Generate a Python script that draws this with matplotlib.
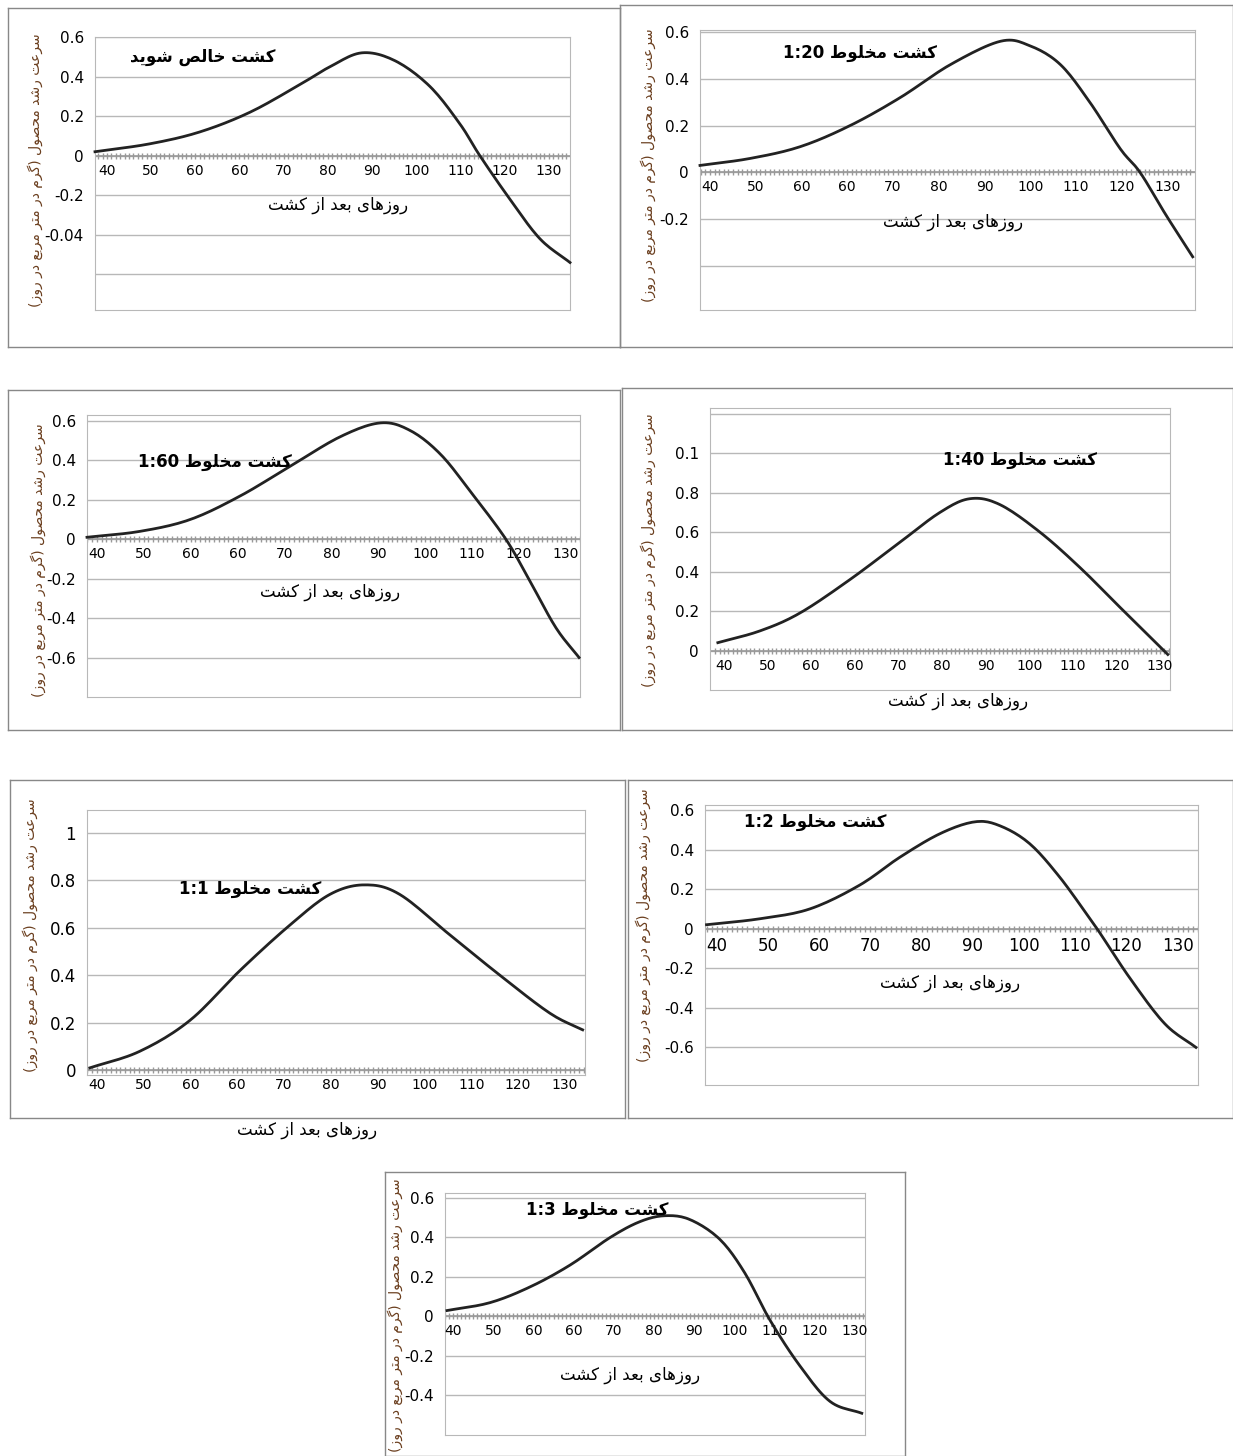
import matplotlib
matplotlib.use("Agg")
import matplotlib.pyplot as plt
import numpy as np

W, H = 1233, 1456

# Persian text (logical order)
Y_LABEL = "سرعت رشد محصول (گرم در متر مربع در روز)"
X_LABEL = "روزهای بعد از کشت"
TITLES = ["کشت خالص شوید", "کشت مخلوط 1:20", "کشت مخلوط 1:60", "کشت مخلوط 1:40",
          "کشت مخلوط 1:1", "کشت مخلوط 1:2", "کشت مخلوط 1:3"]

XT_SKEW = ["40", "50", "60", "60", "70", "80", "90", "100", "110", "120", "130"]
XT_PLAIN = ["40", "50", "60", "70", "80", "90", "100", "110", "120", "130"]

# curves: days (label scale) and growth rate
p1_x = [37.3, 49.7, 61, 72.4, 83.7, 90.5, 97.7, 105.2, 113.1, 119.9, 124.4, 131.2, 138, 144.8]
p1_y = [0.02, 0.06, 0.12, 0.22, 0.36, 0.45, 0.52, 0.48, 0.35, 0.16, 0.0, -0.22, -0.42, -0.54]
p2_x = [37.8, 48.8, 59.7, 70.6, 81.6, 92.5, 103.5, 110, 116.6, 123, 129.7, 134, 139.6, 145.5]
p2_y = [0.03, 0.06, 0.11, 0.2, 0.32, 0.46, 0.56, 0.54, 0.46, 0.3, 0.1, 0.0, -0.18, -0.36]
p3_x = [37.9, 49.2, 59.9, 70.6, 81.2, 91.9, 100.5, 106.9, 113.3, 119.7, 127.2, 132.5, 137.9, 142.8]
p3_y = [0.01, 0.04, 0.1, 0.22, 0.37, 0.52, 0.59, 0.55, 0.43, 0.24, 0.0, -0.22, -0.45, -0.6]
p4_x = [38.6, 48.3, 57.4, 68.9, 80.4, 89.5, 96.4, 103.3, 112.5, 121.7, 130.8, 141.8]
p4_y = [0.04, 0.1, 0.19, 0.36, 0.55, 0.7, 0.77, 0.74, 0.6, 0.42, 0.22, -0.02]
p5_x = [38.5, 49.2, 59.9, 70.6, 81.2, 89.8, 97.3, 104.7, 115.4, 126.1, 136.8, 143.8]
p5_y = [0.01, 0.08, 0.21, 0.42, 0.61, 0.74, 0.78, 0.74, 0.57, 0.4, 0.24, 0.17]
p6_x = [38, 48.4, 58.2, 67.9, 75.7, 83.6, 90.4, 95.3, 101.1, 107, 112.9, 114.8, 120.7, 127.5, 133.6]
p6_y = [0.02, 0.05, 0.1, 0.22, 0.36, 0.48, 0.54, 0.52, 0.43, 0.26, 0.05, -0.02, -0.25, -0.48, -0.6]
p7_x = [38.5, 49.2, 59.2, 69.1, 79.1, 86.5, 92.7, 99, 106.4, 112.6, 118.9, 126.3, 133.8, 141.7]
p7_y = [0.03, 0.07, 0.15, 0.26, 0.4, 0.48, 0.51, 0.49, 0.39, 0.22, -0.02, -0.25, -0.43, -0.49]

FORMS = {
    'ا': ('\uFE8D', '\uFE8E', None, None), 'ب': ('\uFE8F', '\uFE90', '\uFE91', '\uFE92'),
    'ت': ('\uFE95', '\uFE96', '\uFE97', '\uFE98'), 'ح': ('\uFEA1', '\uFEA2', '\uFEA3', '\uFEA4'),
    'خ': ('\uFEA5', '\uFEA6', '\uFEA7', '\uFEA8'), 'د': ('\uFEA9', '\uFEAA', None, None),
    'ر': ('\uFEAD', '\uFEAE', None, None), 'ز': ('\uFEAF', '\uFEB0', None, None),
    'س': ('\uFEB1', '\uFEB2', '\uFEB3', '\uFEB4'), 'ش': ('\uFEB5', '\uFEB6', '\uFEB7', '\uFEB8'),
    'ص': ('\uFEB9', '\uFEBA', '\uFEBB', '\uFEBC'), 'ط': ('\uFEC1', '\uFEC2', '\uFEC3', '\uFEC4'),
    'ع': ('\uFEC9', '\uFECA', '\uFECB', '\uFECC'), 'ل': ('\uFEDD', '\uFEDE', '\uFEDF', '\uFEE0'),
    'م': ('\uFEE1', '\uFEE2', '\uFEE3', '\uFEE4'), 'ن': ('\uFEE5', '\uFEE6', '\uFEE7', '\uFEE8'),
    'ه': ('\uFEE9', '\uFEEA', '\uFEEB', '\uFEEC'), 'و': ('\uFEED', '\uFEEE', None, None),
    'ک': ('\uFB8E', '\uFB8F', '\uFB90', '\uFB91'), 'گ': ('\uFB92', '\uFB93', '\uFB94', '\uFB95'),
    'ی': ('\uFBFC', '\uFBFD', '\uFBFE', '\uFBFF'),
}
MIRROR = {'(': ')', ')': '('}


def fa(s):
    """crude arabic shaping + visual reordering"""
    out = []
    for i, c in enumerate(s):
        if c not in FORMS:
            out.append(c)
            continue
        prev = s[i - 1] if i > 0 else ''
        nxt = s[i + 1] if i + 1 < len(s) else ''
        jp = prev in FORMS and FORMS[prev][2] is not None
        jn = nxt in FORMS and FORMS[c][2] is not None
        iso, fin, ini, med = FORMS[c]
        out.append(med if jp and jn else fin if jp else ini if jn else iso)
    runs = []
    for c in out:
        ltr = c.isascii() and (c.isalnum() or c in ':.')
        if runs and runs[-1][0] == ltr:
            runs[-1][1].append(c)
        else:
            runs.append([ltr, [c]])
    res = ""
    for ltr, chars in reversed(runs):
        if ltr:
            res += "".join(chars)
        else:
            res += "".join(MIRROR.get(c, c) for c in reversed(chars))
    return res


def smooth(xs, ys, n=12):
    # catmull-rom through the read points, only for drawing
    x = np.array(xs, float)
    y = np.array(ys, float)
    px = np.concatenate([[2 * x[0] - x[1]], x, [2 * x[-1] - x[-2]]])
    py = np.concatenate([[2 * y[0] - y[1]], y, [2 * y[-1] - y[-2]]])
    t = np.linspace(0, 1, n, endpoint=False)
    ox, oy = [], []
    for i in range(1, len(px) - 2):
        for arr, o in ((px, ox), (py, oy)):
            p0, p1, p2, p3 = arr[i - 1], arr[i], arr[i + 1], arr[i + 2]
            o.extend(0.5 * (2 * p1 + (-p0 + p2) * t + (2 * p0 - 5 * p1 + 4 * p2 - p3) * t ** 2
                            + (-p0 + 3 * p1 - 3 * p2 + p3) * t ** 3))
    ox.append(x[-1])
    oy.append(y[-1])
    return ox, oy


def ftext(x, y, s, **kw):
    fig.text(x / W, 1 - y / H, s, **kw)


fig = plt.figure(figsize=(W / 100, H / 100), dpi=100)
plt.rcParams['font.family'] = ['DejaVu Sans']

GRID = "#b8b8b8"
YCOL = "#6b3f1f"

panels = [
    dict(frame=(8, 8, 620, 347), area=(95, 37, 570, 310), ylim=(-0.78, 0.6), xlim=(37.3, 144.8),
         grid=[0.6, 0.4, 0.2, 0, -0.2, -0.4, -0.6],
         yt=([0.6, 0.4, 0.2, 0, -0.2, -0.4], ["0.6", "0.4", "0.2", "0", "-0.2", "-0.04"]),
         xt=XT_SKEW, title=(203, 57), xl=(338, 205), yl=(35, 170), x=p1_x, y=p1_y),
    dict(frame=(620, 5, 1233, 347), area=(700, 30, 1195, 310), ylim=(-0.587, 0.608), xlim=(37.8, 146),
         grid=[0.6, 0.4, 0.2, 0, -0.2, -0.4],
         yt=([0.6, 0.4, 0.2, 0, -0.2], ["0.6", "0.4", "0.2", "0", "-0.2"]),
         xt=XT_SKEW, title=(860, 53), xl=(953, 222), yl=(648, 165), x=p2_x, y=p2_y),
    dict(frame=(8, 390, 620, 730), area=(87, 415, 580, 697), ylim=(-0.8, 0.63), xlim=(37.9, 143),
         grid=[0.6, 0.4, 0.2, 0, -0.2, -0.4, -0.6],
         yt=([0.6, 0.4, 0.2, 0, -0.2, -0.4, -0.6], ["0.6", "0.4", "0.2", "0", "-0.2", "-0.4", "-0.6"]),
         xt=XT_SKEW, title=(215, 462), xl=(330, 592), yl=(38, 560), x=p3_x, y=p3_y),
    dict(frame=(622, 388, 1233, 730), area=(710, 408, 1170, 690), ylim=(-0.2, 1.23), xlim=(36.8, 142.3),
         grid=[1.2, 1.0, 0.8, 0.6, 0.4, 0.2, 0],
         yt=([1.0, 0.8, 0.6, 0.4, 0.2, 0], ["0.1", "0.8", "0.6", "0.4", "0.2", "0"]),
         xt=XT_SKEW, title=(1020, 460), xl=(958, 701), yl=(648, 550), x=p4_x, y=p4_y),
    dict(frame=(10, 780, 625, 1118), area=(87, 810, 585, 1075), ylim=(-0.02, 1.095), xlim=(37.9, 144.3),
         grid=[1.0, 0.8, 0.6, 0.4, 0.2, 0],
         yt=([1.0, 0.8, 0.6, 0.4, 0.2, 0], ["1", "0.8", "0.6", "0.4", "0.2", "0"]),
         xt=XT_SKEW, title=(250, 889), xl=(307, 1130), yl=(30, 935), x=p5_x, y=p5_y, yfs=12),
    dict(frame=(628, 780, 1233, 1118), area=(705, 805, 1198, 1085), ylim=(-0.79, 0.625), xlim=(37.7, 134),
         grid=[0.6, 0.4, 0.2, 0, -0.2, -0.4, -0.6],
         yt=([0.6, 0.4, 0.2, 0, -0.2, -0.4, -0.6], ["0.6", "0.4", "0.2", "0", "-0.2", "-0.4", "-0.6"]),
         xt=XT_PLAIN, title=(815, 822), xl=(950, 983), yl=(643, 925), x=p6_x, y=p6_y),
    dict(frame=(385, 1172, 905, 1456), area=(445, 1193, 865, 1435), ylim=(-0.6, 0.625), xlim=(38, 142.5),
         grid=[0.6, 0.4, 0.2, 0, -0.2, -0.4],
         yt=([0.6, 0.4, 0.2, 0, -0.2, -0.4], ["0.6", "0.4", "0.2", "0", "-0.2", "-0.4"]),
         xt=XT_SKEW, title=(597, 1210), xl=(630, 1375), yl=(395, 1315), x=p7_x, y=p7_y),
]

for i, p in enumerate(panels):
    fx0, fy0, fx1, fy1 = p["frame"]
    fr = fig.add_axes([fx0 / W, 1 - fy1 / H, (fx1 - fx0) / W, (fy1 - fy0) / H])
    fr.set_xticks([])
    fr.set_yticks([])
    fr.patch.set_alpha(0)
    for s in fr.spines.values():
        s.set_color("#888888")
        s.set_linewidth(1.0)

    x0, y0, x1, y1 = p["area"]
    ax = fig.add_axes([x0 / W, 1 - y1 / H, (x1 - x0) / W, (y1 - y0) / H])
    ax.set_xlim(*p["xlim"])
    ax.set_ylim(*p["ylim"])
    for g in p["grid"]:
        ax.axhline(g, color=GRID, lw=1.0, zorder=1)
    for s in ax.spines.values():
        s.set_color(GRID)
    ax.set_xticks([])
    ax.set_yticks(p["yt"][0])
    ax.set_yticklabels(p["yt"][1], fontsize=p.get("yfs", 11))
    ax.tick_params(axis="y", length=0, pad=8)

    # zero axis with dense minor ticks
    days = [d for d in range(38, 146) if p["xlim"][0] <= d <= p["xlim"][1]]
    ax.axhline(0, color="#999999", lw=1.2, zorder=2)
    ax.plot(days, [0] * len(days), ls="none", marker="|", ms=5, color="#999999", zorder=2)

    fs = 12 if p["xt"] is XT_PLAIN else 10
    dy = (p["ylim"][1] - p["ylim"][0]) * 8 / (y1 - y0)
    for k, lab in enumerate(p["xt"]):
        ax.text(40 + 10 * k, -dy, lab, ha="center", va="top", fontsize=fs, clip_on=False)

    sx, sy = smooth(p["x"], p["y"])
    ax.plot(sx, sy, color="#222222", lw=2, zorder=3, clip_on=False)

    ftext(*p["title"], fa(TITLES[i]), ha="center", va="center", fontsize=12, fontweight="bold")
    ftext(*p["xl"], fa(X_LABEL), ha="center", va="center", fontsize=12)
    ftext(*p["yl"], fa(Y_LABEL), ha="center", va="center", fontsize=10, rotation=90, color=YCOL)

fig.savefig("out.png", dpi=100)
